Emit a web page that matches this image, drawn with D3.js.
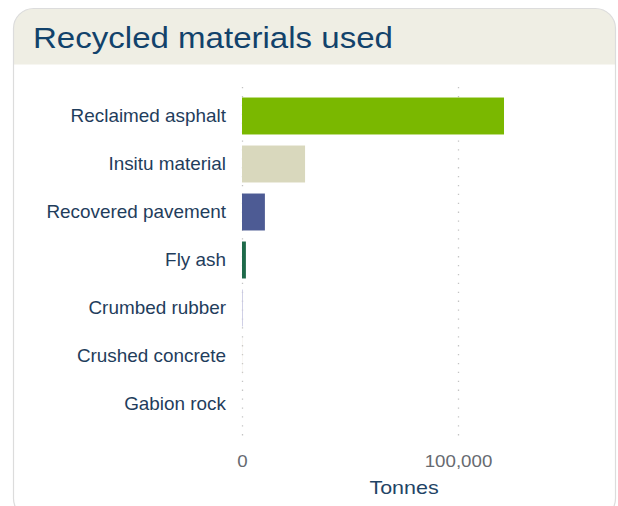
<!DOCTYPE html>
<html>
<head>
<meta charset="utf-8">
<script src="https://cdn.jsdelivr.net/npm/d3@7"></script>
<style>
  html, body { margin: 0; padding: 0; background: #fff; }
  svg { display: block; font-family: "Liberation Sans", Arial, sans-serif; }
</style>
</head>
<body>
<svg id="chart" width="618" height="506"></svg>
<script>
// Recycled materials (tonnes)
const categories = ["Reclaimed asphalt", "Insitu material", "Recovered pavement", "Fly ash", "Crumbed rubber", "Crushed concrete", "Gabion rock"];
const tonnes = [121300, 29200, 10600, 1800, 400, 100, 0];
const barColors = ["#7ab800", "#d9d8bd", "#4d5b94", "#1e6a4a", "#c9c9e2", "#e2d9c9", "#cfcfcf"];
const tickValues = [0, 100000];
const chartTitle = "Recycled materials used";
const axisTitle = "Tonnes";

const svg = d3.select("#chart");
const FONT = "\"Liberation Sans\", Arial, sans-serif";

// text in this widget is set slightly wide
function widen(sel, sx) {
  sel.each(function () {
    const t = d3.select(this);
    const x0 = +t.attr("x") || 0, y0 = +t.attr("y") || 0;
    t.attr("x", 0).attr("y", y0).attr("transform", `translate(${x0},0) scale(${sx},1)`);
  });
}

// card with rounded corners and a tinted header strip
const card = { x: 13.5, y: 8.5, w: 602, h: 510, r: 20 };
const headerH = 56;
const clip = svg.append("defs").append("clipPath").attr("id", "cardClip");
clip.append("rect").attr("x", card.x).attr("y", card.y).attr("width", card.w).attr("height", card.h).attr("rx", card.r);
svg.append("rect").attr("x", card.x).attr("y", card.y).attr("width", card.w).attr("height", card.h)
  .attr("rx", card.r).attr("fill", "#fff");
svg.append("rect").attr("x", card.x).attr("y", card.y).attr("width", card.w).attr("height", headerH)
  .attr("fill", "#efeee4").attr("clip-path", "url(#cardClip)");
svg.append("rect").attr("x", card.x).attr("y", card.y).attr("width", card.w).attr("height", card.h)
  .attr("rx", card.r).attr("fill", "none").attr("stroke", "#dcdcdc").attr("stroke-width", 1.2);

svg.append("text").attr("x", 33).attr("y", 48)
  .attr("font-size", 29).attr("fill", "#12426b").text(chartTitle)
  .call(widen, 1.14);

// scales
const x = d3.scaleLinear().domain([0, 100000]).range([242, 458]);
const y = d3.scaleBand().domain(categories).range([92, 428]).paddingInner(0.23).paddingOuter(0.115);
const gridTop = 87, gridBottom = 443;

// dotted vertical gridlines
svg.append("g").selectAll("line").data(tickValues).join("line")
  .attr("x1", d => Math.round(x(d)) + 0.5).attr("x2", d => Math.round(x(d)) + 0.5)
  .attr("y1", gridTop).attr("y2", gridBottom)
  .attr("stroke", "#c4c4c4").attr("stroke-width", 1.3).attr("stroke-dasharray", "1.3,7.6");

// bars
svg.append("g").selectAll("rect").data(categories).join("rect")
  .attr("x", x(0))
  .attr("y", d => y(d))
  .attr("width", (d, i) => x(tonnes[i]) - x(0))
  .attr("height", y.bandwidth())
  .attr("fill", (d, i) => barColors[i]);

// category axis (labels only)
const yAxis = d3.axisLeft(y).tickSize(0).tickPadding(0);
const gy = svg.append("g").attr("transform", "translate(226,0)").call(yAxis);
gy.select(".domain").remove();
gy.selectAll("text").attr("font-size", 17.5).attr("fill", "#1f3d5c").attr("font-family", FONT)
  .call(widen, 1.08);

// value axis (labels only)
const xAxis = d3.axisBottom(x).tickValues(tickValues).tickFormat(d3.format(",")).tickSize(0).tickPadding(0);
const gx = svg.append("g").attr("transform", "translate(0,455)").call(xAxis);
gx.select(".domain").remove();
gx.selectAll("text").attr("font-size", 17).attr("fill", "#666a70").attr("font-family", FONT)
  .call(widen, 1.1);

svg.append("text").attr("x", 404).attr("y", 494).attr("text-anchor", "middle")
  .attr("font-size", 19).attr("fill", "#1f4466").text(axisTitle)
  .call(widen, 1.13);
</script>
</body>
</html>
